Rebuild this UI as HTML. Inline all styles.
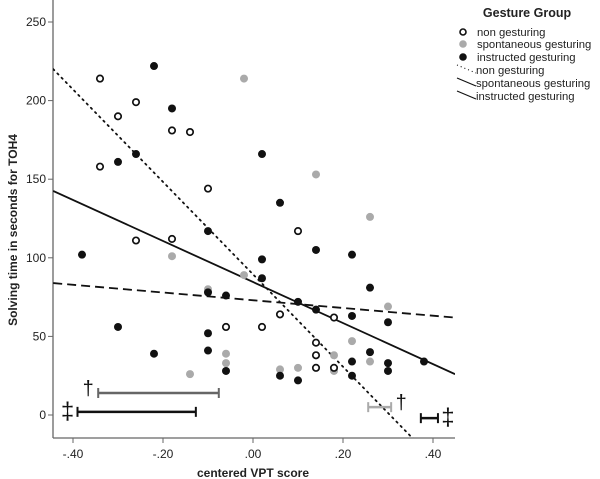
<!DOCTYPE html>
<html><head><meta charset="utf-8"><style>
body{margin:0;background:#fff;}
svg{display:block;font-family:"Liberation Sans",sans-serif;}
</style></head><body>
<svg id="chart" width="600" height="479" viewBox="0 0 600 479">
<g id="marks"></g>
</svg>
<script>
const xTicks=[-0.4,-0.2,0,0.2,0.4];
const xTickLabels=["-.40","-.20",".00",".20",".40"];
const yTicks=[0,50,100,150,200,250];
const nonX=[-0.34,-0.26,-0.30,-0.18,-0.14,-0.34,-0.10,-0.26,-0.18,-0.06,0.10,0.02,0.06,0.14,0.14,0.14,0.18,0.18];
const nonY=[214,199,190,181,180,158,144,111,112,56,117,56,64,46,38,30,62,30];
const spoX=[-0.02,-0.18,-0.02,-0.14,-0.06,-0.06,-0.10,0.06,0.10,0.18,0.18,0.22,0.26,0.30,0.26,0.14];
const spoY=[214,101,89,26,39,33,80,29,30,38,28,47,34,69,126,153];
const insX=[-0.22,-0.18,-0.26,-0.30,0.02,0.06,-0.10,-0.38,-0.30,-0.22,-0.10,-0.10,-0.06,-0.10,-0.06,0.14,0.22,0.02,0.02,0.26,0.10,0.14,0.22,0.30,0.06,0.10,0.22,0.22,0.26,0.30,0.30,0.38];
const insY=[222,195,166,161,166,135,117,102,56,39,52,41,76,78,28,105,102,99,87,81,72,67,63,59,25,22,34,25,40,33,28,34];
const fitIntercepts=[89.5,73,84.6];
const fitSlopes=[-294,-24.6,-130.5];
const barLo=[-0.344,-0.39,0.256,0.373];
const barHi=[-0.076,-0.127,0.307,0.411];
const barY=[14,2,5,-2];

const X0=-0.444,X1=0.449,PL=53,PR=455,PT=8,PB=438;
const sx=v=>253+v*450;
const sy=v=>415-v*1.572;
const NS="http://www.w3.org/2000/svg";
const svg=document.getElementById('chart');
function mk(tag,at,parent){const e=document.createElementNS(NS,tag);for(const k in at)e.setAttribute(k,at[k]);(parent||svg).appendChild(e);return e;}
const clip=mk('clipPath',{id:'pc'});mk('rect',{x:PL,y:PT,width:PR-PL,height:PB-PT},clip);

let a=mk('line',{x1:PL,y1:PT-8,x2:PL,y2:PB,stroke:'#666','stroke-width':1.3});

a=mk('line',{x1:PL,y1:PB,x2:PR,y2:PB,stroke:'#666','stroke-width':1.3});

yTicks.forEach(t=>{
 mk('line',{x1:PL-5,x2:PL,y1:sy(t),y2:sy(t),stroke:'#666'});
 const tx=mk('text',{x:PL-7,y:sy(t)+4,'text-anchor':'end','font-size':12,fill:'#222'});tx.textContent=t;
 
});
xTicks.forEach((t,i)=>{
 mk('line',{x1:sx(t),x2:sx(t),y1:PB,y2:PB+5,stroke:'#666'});
 const tx=mk('text',{x:sx(t),y:PB+20,'text-anchor':'middle','font-size':12,fill:'#222'});tx.textContent=xTickLabels[i];
 
});
let t=mk('text',{x:253,y:477,'text-anchor':'middle','font-size':12,'font-weight':'bold',fill:'#222'});t.textContent='centered VPT score';

t=mk('text',{x:0,y:0,transform:'translate(17,230) rotate(-90)','text-anchor':'middle','font-size':12,'font-weight':'bold',fill:'#222'});t.textContent='Solving time in seconds for TOH4';


const dashes=['1.5,4.5','9,5',''];
const fitNames=['fit-line-non-gesturing','fit-line-spontaneous','fit-line-instructed'];
fitIntercepts.forEach((b,i)=>{
 const l=mk('line',{x1:sx(X0),y1:sy(b+fitSlopes[i]*X0),x2:sx(X1),y2:sy(b+fitSlopes[i]*X1),stroke:'#111','stroke-width':1.8,'stroke-dasharray':dashes[i],'clip-path':'url(#pc)','stroke-linecap':i==0?'round':'butt'});
 
});
spoX.forEach((x,i)=>{const c=mk('circle',{cx:sx(x),cy:sy(spoY[i]),r:4,fill:'#aaa'});
 });
insX.forEach((x,i)=>{const c=mk('circle',{cx:sx(x),cy:sy(insY[i]),r:4,fill:'#111'});
 });
nonX.forEach((x,i)=>{const c=mk('circle',{cx:sx(x),cy:sy(nonY[i]),r:3.2,fill:'#fff',stroke:'#111','stroke-width':1.7});
 });
const barCol=['#666','#111','#aaa','#111'];
const barMark=['†','‡','†','‡'];
barLo.forEach((lo,i)=>{
 const g=mk('g',{});
 
 const y=sy(barY[i]);
 mk('line',{x1:sx(lo),x2:sx(barHi[i]),y1:y,y2:y,stroke:barCol[i],'stroke-width':2.5},g);
 mk('line',{x1:sx(lo),x2:sx(lo),y1:y-5,y2:y+5,stroke:barCol[i],'stroke-width':2},g);
 mk('line',{x1:sx(barHi[i]),x2:sx(barHi[i]),y1:y-5,y2:y+5,stroke:barCol[i],'stroke-width':2},g);
 const left=i<2;
 const m=mk('text',{x:left?sx(lo)-10:sx(barHi[i])+10,y:y+(i%2?7:2),'text-anchor':'middle','font-size':i%2?24:20,fill:'#111'},g);
 m.textContent=barMark[i];
});
const lg=mk('g',{});
t=mk('text',{x:527,y:17,'text-anchor':'middle','font-size':12.5,'font-weight':'bold',fill:'#222'},lg);t.textContent='Gesture Group';
const labs=['non gesturing','spontaneous gesturing','instructed gesturing','non gesturing','spontaneous gesturing','instructed gesturing'];
const rowY=[32,44,57,70,83,96];
labs.forEach((s,i)=>{
 const y=rowY[i];
 const e=mk('g',{},lg);
 if(i==0)mk('circle',{cx:463,cy:y,r:3,fill:'#fff',stroke:'#111','stroke-width':1.6},e);
 else if(i==1)mk('circle',{cx:463,cy:y,r:3.8,fill:'#aaa'},e);
 else if(i==2)mk('circle',{cx:463,cy:y,r:3.8,fill:'#111'},e);
 else mk('line',{x1:457,y1:y-5,x2:476,y2:y+3,stroke:'#111','stroke-width':1.1,'stroke-dasharray':i==3?'1,3':''},e);
 const tx=mk('text',{x:i<3?477:476,y:y+4,'font-size':11.3,fill:'#222'},e);tx.textContent=s;
});
</script>
</body></html>
